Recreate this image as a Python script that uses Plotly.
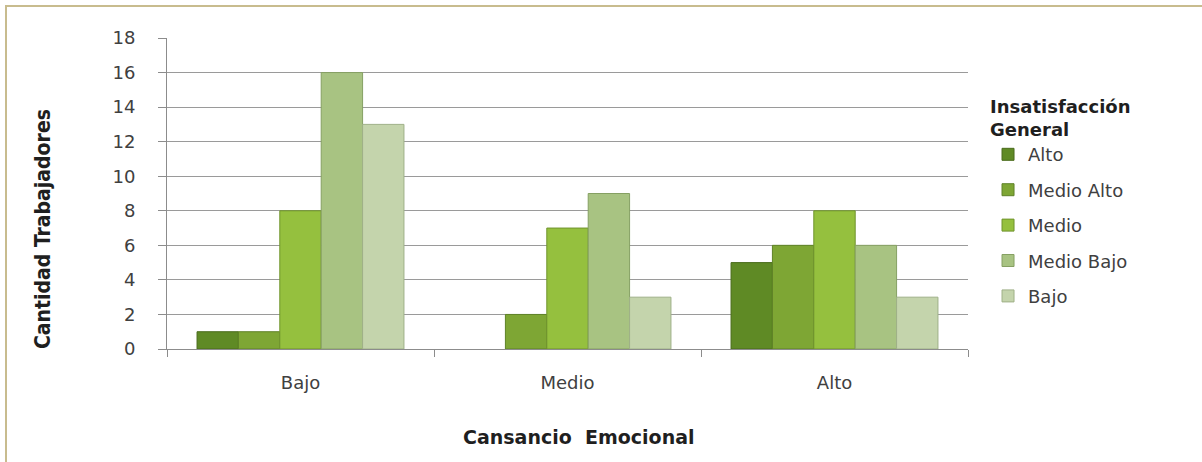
import plotly.graph_objects as go

categories = ["Bajo", "Medio", "Alto"]
series_names = ["Alto", "Medio Alto", "Medio", "Medio Bajo", "Bajo"]
alto = [1, 0, 5]
medio_alto = [1, 2, 6]
medio = [8, 7, 8]
medio_bajo = [16, 9, 6]
bajo = [13, 3, 3]
y_ticks = [0, 2, 4, 6, 8, 10, 12, 14, 16, 18]

values = [alto, medio_alto, medio, medio_bajo, bajo]
fills = ["#5f8a25", "#7ea634", "#95c03e", "#a8c382", "#c4d4ac"]
edges = ["#4a6b1c", "#5f8227", "#6f932c", "#86a063", "#9fb088"]

fig = go.Figure()
for name, vals, fc, ec in zip(series_names, values, fills, edges):
    fig.add_trace(go.Bar(
        x=categories, y=vals, name=name, legendgroup=name,
        marker=dict(color=fc, line=dict(color=ec, width=[1 if v else 0 for v in vals])),
    ))

font_main = "DejaVu Sans"
fig.update_layout(
    width=1202, height=462,
    margin=dict(l=167, r=234, t=38, b=113),
    paper_bgcolor="white", plot_bgcolor="white",
    barmode="group", bargap=0.225, bargroupgap=0,
    font=dict(family=font_main, size=18, color="#404040"),
    showlegend=True,
    legend=dict(
        x=1.025, xanchor="left", y=0.835, yanchor="top",
        font=dict(family=font_main, size=18, color="#404040"),
        title=dict(text="<b>Insatisfacción<br>General</b>",
                   font=dict(family=font_main, size=18, color="#1f1f1f")),
        tracegroupgap=9,
        bgcolor="rgba(0,0,0,0)",
    ),
    xaxis=dict(
        showline=True, linecolor="#8c8c8c", linewidth=1,
        ticks="outside", ticklen=7, tickcolor="#8c8c8c", tickson="boundaries",
        tickfont=dict(family=font_main, size=18, color="#404040"),
        ticklabelstandoff=17,
        showgrid=False,
    ),
    yaxis=dict(
        range=[0, 18], tickvals=y_ticks,
        showline=True, linecolor="#8c8c8c", linewidth=1,
        ticks="outside", ticklen=8, tickcolor="#8c8c8c",
        showgrid=True, gridcolor="#9a9a9a", gridwidth=1,
        tickfont=dict(family=font_main, size=18, color="#404040"),
        ticklabelstandoff=19,
        zeroline=False,
    ),
    annotations=[
        dict(text="<b>Cantidad Trabajadores</b>", textangle=-90,
             xref="paper", yref="paper", x=(43 - 167) / 801, y=(349 - 229) / 311,
             xanchor="center", yanchor="middle", showarrow=False,
             font=dict(family="DejaVu Sans Condensed, DejaVu Sans", size=21, color="#1f1f1f")),
        dict(text="<b>Cansancio  Emocional</b>",
             xref="paper", yref="paper", x=(579 - 167) / 801, y=(349 - 437) / 311,
             xanchor="center", yanchor="middle", showarrow=False,
             font=dict(family=font_main, size=19, color="#1f1f1f")),
    ],
    shapes=[
        dict(type="rect", xref="paper", yref="paper",
             x0=(6 - 167) / 801, x1=1.5, y0=-0.5, y1=(349 - 6) / 311,
             line=dict(color="#c8bc8e", width=2), fillcolor="rgba(0,0,0,0)", layer="below"),
    ],
)

fig.write_html("out.html", config={"displayModeBar": False},
               post_script="document.body.style.margin='0';document.body.style.overflow='hidden';")
